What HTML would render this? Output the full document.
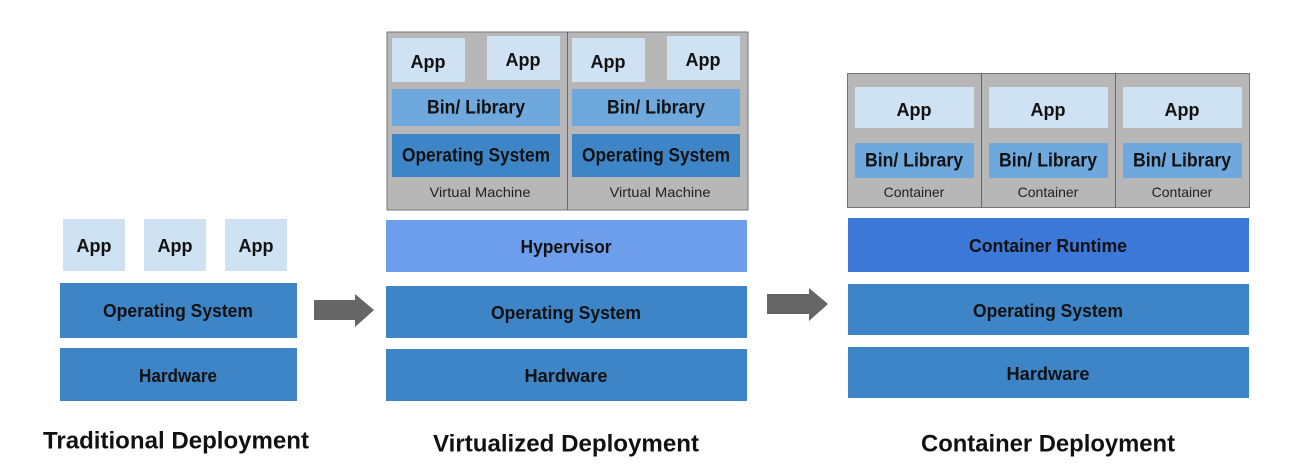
<!DOCTYPE html>
<html><head><meta charset="utf-8"><style>html,body{margin:0;padding:0;background:#fff}svg{display:block}text{font-family:"Liberation Sans",sans-serif;font-weight:bold;fill:#111;dominant-baseline:central;text-anchor:middle}.s{font-weight:normal;font-size:14px;fill:#222}</style></head><body>
<svg width="1301" height="476" viewBox="0 0 1301 476" xmlns="http://www.w3.org/2000/svg">
<rect x="63" y="219" width="62" height="52" fill="#cfe2f3"/>
<rect x="144" y="219" width="62" height="52" fill="#cfe2f3"/>
<rect x="225" y="219" width="62" height="52" fill="#cfe2f3"/>
<text x="94" y="246" font-size="18">App</text>
<text x="175" y="246" font-size="18">App</text>
<text x="256" y="246" font-size="18">App</text>
<rect x="60" y="283" width="237" height="55" fill="#3d85c6"/>
<text x="178" y="311" font-size="18" textLength="150" lengthAdjust="spacingAndGlyphs">Operating System</text>
<rect x="60" y="348" width="237" height="53" fill="#3d85c6"/>
<text x="178" y="376" font-size="18" textLength="78" lengthAdjust="spacingAndGlyphs">Hardware</text>
<text x="176" y="441" font-size="24" textLength="266" lengthAdjust="spacingAndGlyphs">Traditional Deployment</text>
<polygon points="314,300 355,300 355,294 374,310 355,327 355,320 314,320" fill="#666"/>
<rect x="387" y="32" width="361" height="178" fill="#b7b7b7" stroke="#777" stroke-width="1"/>
<line x1="567.5" y1="32" x2="567.5" y2="210" stroke="#666"/>
<rect x="392" y="38" width="73" height="44" fill="#cfe2f3"/>
<rect x="487" y="36" width="73" height="44" fill="#cfe2f3"/>
<rect x="572" y="38" width="73" height="44" fill="#cfe2f3"/>
<rect x="667" y="36" width="73" height="44" fill="#cfe2f3"/>
<text x="428" y="62" font-size="18">App</text>
<text x="523" y="60" font-size="18">App</text>
<text x="608" y="62" font-size="18">App</text>
<text x="703" y="60" font-size="18">App</text>
<rect x="392" y="89" width="168" height="37" fill="#6fa8dc"/>
<rect x="572" y="89" width="168" height="37" fill="#6fa8dc"/>
<text x="476" y="108" font-size="19" textLength="98" lengthAdjust="spacingAndGlyphs">Bin/ Library</text>
<text x="656" y="108" font-size="19" textLength="98" lengthAdjust="spacingAndGlyphs">Bin/ Library</text>
<rect x="392" y="134" width="168" height="43" fill="#3d85c6"/>
<rect x="572" y="134" width="168" height="43" fill="#3d85c6"/>
<text x="476" y="156" font-size="19" textLength="148" lengthAdjust="spacingAndGlyphs">Operating System</text>
<text x="656" y="156" font-size="19" textLength="148" lengthAdjust="spacingAndGlyphs">Operating System</text>
<text class="s" x="480" y="192" textLength="101" lengthAdjust="spacingAndGlyphs">Virtual Machine</text>
<text class="s" x="660" y="192" textLength="101" lengthAdjust="spacingAndGlyphs">Virtual Machine</text>
<rect x="386" y="220" width="361" height="52" fill="#6d9eeb"/>
<text x="566" y="247" font-size="18" textLength="91" lengthAdjust="spacingAndGlyphs">Hypervisor</text>
<rect x="386" y="286" width="361" height="52" fill="#3d85c6"/>
<text x="566" y="313" font-size="18" textLength="150" lengthAdjust="spacingAndGlyphs">Operating System</text>
<rect x="386" y="349" width="361" height="52" fill="#3d85c6"/>
<text x="566" y="376" font-size="18" textLength="83" lengthAdjust="spacingAndGlyphs">Hardware</text>
<text x="566" y="444" font-size="24" textLength="266" lengthAdjust="spacingAndGlyphs">Virtualized Deployment</text>
<polygon points="767,294 809,294 809,288 828,304 809,321 809,314 767,314" fill="#666"/>
<rect x="847.5" y="73.5" width="402" height="134" fill="#b7b7b7" stroke="#777" stroke-width="1"/>
<line x1="981.5" y1="73" x2="981.5" y2="207" stroke="#666"/>
<line x1="1115.5" y1="73" x2="1115.5" y2="207" stroke="#666"/>
<rect x="855" y="87" width="119" height="41" fill="#cfe2f3"/>
<rect x="989" y="87" width="119" height="41" fill="#cfe2f3"/>
<rect x="1123" y="87" width="119" height="41" fill="#cfe2f3"/>
<text x="914" y="110" font-size="18">App</text>
<text x="1048" y="110" font-size="18">App</text>
<text x="1182" y="110" font-size="18">App</text>
<rect x="855" y="143" width="119" height="35" fill="#6fa8dc"/>
<rect x="989" y="143" width="119" height="35" fill="#6fa8dc"/>
<rect x="1123" y="143" width="119" height="35" fill="#6fa8dc"/>
<text x="914" y="161" font-size="19" textLength="98" lengthAdjust="spacingAndGlyphs">Bin/ Library</text>
<text x="1048" y="161" font-size="19" textLength="98" lengthAdjust="spacingAndGlyphs">Bin/ Library</text>
<text x="1182" y="161" font-size="19" textLength="98" lengthAdjust="spacingAndGlyphs">Bin/ Library</text>
<text class="s" x="914" y="192">Container</text>
<text class="s" x="1048" y="192">Container</text>
<text class="s" x="1182" y="192">Container</text>
<rect x="848" y="218" width="401" height="54" fill="#3c78d8"/>
<text x="1048" y="246" font-size="18" textLength="158" lengthAdjust="spacingAndGlyphs">Container Runtime</text>
<rect x="848" y="284" width="401" height="51" fill="#3d85c6"/>
<text x="1048" y="311" font-size="18" textLength="150" lengthAdjust="spacingAndGlyphs">Operating System</text>
<rect x="848" y="347" width="401" height="51" fill="#3d85c6"/>
<text x="1048" y="374" font-size="18" textLength="83" lengthAdjust="spacingAndGlyphs">Hardware</text>
<text x="1048" y="444" font-size="24" textLength="254" lengthAdjust="spacingAndGlyphs">Container Deployment</text>
</svg>
</body></html>
